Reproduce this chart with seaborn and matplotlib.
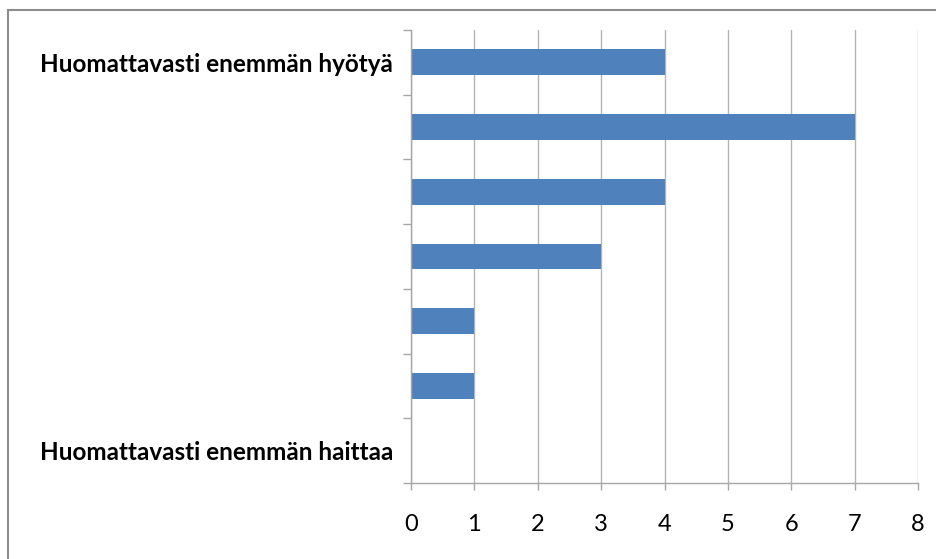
import matplotlib
matplotlib.use("Agg")
import matplotlib.pyplot as plt
import seaborn as sns
import pandas as pd
from matplotlib.patches import Rectangle

# datos del grafico (de arriba hacia abajo)
categorias = ["Huomattavasti enemmän hyötyä", "6", "5", "4", "3", "2", "Huomattavasti enemmän haittaa"]
etiquetas = ["Huomattavasti enemmän hyötyä", "", "", "", "", "", "Huomattavasti enemmän haittaa"]
valores = [4, 7, 4, 3, 1, 1, 0]
x_ticks = [0, 1, 2, 3, 4, 5, 6, 7, 8]

df = pd.DataFrame({"categoria": categorias, "valor": valores})

sns.set_style("white")
plt.rcParams["font.family"] = ["Lato", "DejaVu Sans"]

fig = plt.figure(figsize=(9.36, 5.59), dpi=100)
ax = fig.add_axes([411 / 936, 1 - 483 / 559, 507 / 936, 453 / 559])

sns.barplot(ax=ax, data=df, x="valor", y="categoria", order=categorias,
            color="#4F81BD", saturation=1, width=0.4, orient="h", linewidth=0)

ax.set_xlim(0, 8)
ax.set_ylim(6.5, -0.5)
ax.set_xticks(x_ticks)
ax.set_xticklabels([str(t) for t in x_ticks], fontsize=17)
ax.xaxis.grid(True, color="#B3B3B3", linewidth=1.0)
ax.set_axisbelow(True)

# marcas del eje y entre categorias
ax.set_yticks(range(len(categorias)))
ax.set_yticklabels(etiquetas, fontsize=17.5, fontweight="bold", color="#000000")
ax.set_yticks([i - 0.5 for i in range(len(categorias) + 1)], minor=True)
ax.tick_params(axis="y", which="major", length=0, pad=13)
ax.tick_params(axis="y", which="minor", length=6, color="#A6A6A6", width=1.0, left=True)
ax.tick_params(axis="x", which="major", length=5, color="#A6A6A6", width=1.0, pad=17,
               bottom=True, labelcolor="#000000")

ax.set_xlabel("")
ax.set_ylabel("")
for lado in ["top", "right"]:
    ax.spines[lado].set_visible(False)
for lado in ["left", "bottom"]:
    ax.spines[lado].set_color("#A6A6A6")
    ax.spines[lado].set_linewidth(1.0)

# marco exterior del grafico
fig.patches.append(Rectangle((8 / 936, -0.05), 1.1, 1 - 9.5 / 559 + 0.05,
                             transform=fig.transFigure, fill=False,
                             edgecolor="#8C8C8C", linewidth=1.5))

fig.savefig("out.png", dpi=100)
